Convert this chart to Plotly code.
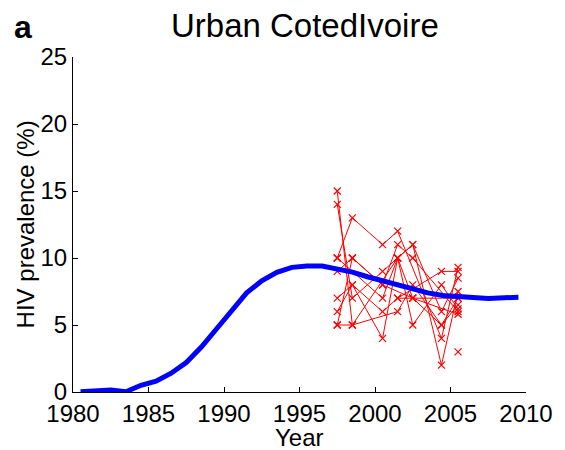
'''
    HIV prevalence in urban Cote d'Ivoire: model fit (blue) against
    antenatal clinic surveillance sites (red).
'''
import plotly.graph_objects as go

# model curve
model_years = [1980.5, 1981.5, 1982.5, 1983.5, 1984.5, 1985.5, 1986.5, 1987.5,
               1988.5, 1989.5, 1990.5, 1991.5, 1992.5, 1993.5, 1994.5, 1995.5,
               1996.5, 1997.5, 1998.5, 1999.5, 2000.5, 2001.5, 2002.5, 2003.5,
               2004.5, 2005.5, 2006.5, 2007.5, 2008.5, 2009.5]
model_prev = [0.02, 0.08, 0.15, 0.02, 0.5, 0.8, 1.4, 2.2,
              3.35, 4.7, 6.1, 7.4, 8.3, 8.93, 9.3, 9.4,
              9.4, 9.15, 8.95, 8.6, 8.3, 8.0, 7.75, 7.4,
              7.2, 7.08, 7.05, 6.98, 6.98, 7.07]

# surveillance sites (one list of years and one of values per site)
site_years = [
    [1997.5, 1998.5, 2001.5, 2002.5, 2004.4, 2005.5],
    [1997.5, 1998.5, 2000.5, 2002.5, 2004.4, 2005.5],
    [1997.5, 1998.5, 2000.5, 2001.5, 2004.4, 2005.5],
    [1997.5, 1998.5, 2000.5, 2001.5, 2002.5, 2005.5],
    [1997.5, 1998.5, 2000.5, 2001.5, 2002.5, 2004.4, 2005.5],
    [1997.5, 1998.5, 2000.5, 2001.5, 2004.4, 2005.5],
    [1997.5, 1998.5, 2000.5, 2002.5, 2005.5],
    [1997.5, 1998.5, 2001.5, 2002.5, 2004.4, 2005.5],
    [1997.5, 2000.5, 2001.5, 2002.5, 2004.4, 2005.5],
    [2001.5, 2002.5, 2005.5],
    [2005.5],
]
site_prev = [
    [15, 5, 10, 7, 5, 6.5],
    [14, 7, 9, 11, 6, 8.5],
    [10, 13, 11, 12, 4, 9.3],
    [9, 10, 8, 11, 10, 6],
    [7, 8, 4, 10, 11, 2, 7.5],
    [6, 8, 6, 7, 9, 9],
    [5, 10, 8, 7, 5.8],
    [5, 5, 6, 8, 5, 7],
    [10, 7, 10, 5, 8, 6.2],
    [7, 7, 7],
    [3],
]

x_ticks = [1980, 1985, 1990, 1995, 2000, 2005, 2010]
y_ticks = [0, 5, 10, 15, 20, 25]

FONT = "Liberation Sans, Arial, sans-serif"

fig = go.Figure()

# red site data
for yrs, vals in zip(site_years, site_prev):
    fig.add_trace(go.Scatter(x=yrs, y=vals, mode="lines+markers",
                             line=dict(color="#ff0000", width=1),
                             marker=dict(symbol="x-thin", size=7,
                                         line=dict(color="#ff0000", width=1.2)),
                             showlegend=False))

# blue model curve
fig.add_trace(go.Scatter(x=model_years, y=model_prev, mode="lines",
                         line=dict(color="#0000ff", width=5),
                         showlegend=False))

# page has an 8px body margin, so the figure is a bit smaller than the window
fig.update_layout(width=557, height=442,
                  margin=dict(l=65, r=28, t=49, b=58),
                  paper_bgcolor="white", plot_bgcolor="white",
                  font=dict(family=FONT, size=24, color="black"),
                  title=dict(text="Urban CotedIvoire", x=0.533, xanchor="center",
                             y=0.9615, yanchor="middle",
                             font=dict(family=FONT, size=33, color="black")))

fig.update_xaxes(range=[1980, 2010], tickvals=x_ticks, ticks="inside",
                 ticklen=5, tickcolor="black", showline=True, linecolor="black",
                 linewidth=1, showgrid=False, zeroline=False)
fig.update_yaxes(range=[0, 25], tickvals=y_ticks, ticks="inside",
                 ticklen=5, tickcolor="black", showline=True, linecolor="black",
                 linewidth=1, showgrid=False, zeroline=False)

# axis titles
fig.add_annotation(text="Year", xref="paper", yref="paper",
                   x=0.5, y=-0.135, xanchor="center", yanchor="middle",
                   showarrow=False, font=dict(family=FONT, size=24))
fig.add_annotation(text="HIV prevalence (%)", xref="paper", yref="paper",
                   x=-0.104, y=0.5, xanchor="center", yanchor="middle",
                   textangle=-90, showarrow=False,
                   font=dict(family=FONT, size=24))

# panel letter
fig.add_annotation(text="<b>a</b>", xref="paper", yref="paper",
                   x=-0.135, y=1.09, xanchor="left", yanchor="middle",
                   showarrow=False, font=dict(family=FONT, size=32))

fig.write_html("out.html")
